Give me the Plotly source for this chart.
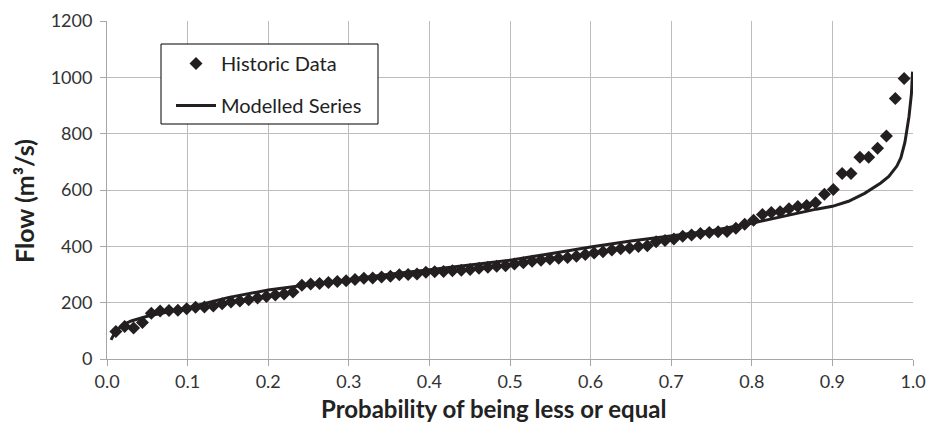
import plotly.graph_objects as go

# Historic data (plotting positions i/(n+1), n = 90)
hist_flow = [98, 115, 110, 130, 162, 170, 172, 173, 178, 184,
             185, 188, 196, 202, 206, 210, 217, 222, 227, 231,
             238, 262, 266, 268, 272, 275, 278, 282, 287, 288,
             291, 294, 299, 300, 302, 308, 310, 311, 313, 315,
             318, 322, 326, 329, 331, 337, 342, 347, 351, 355,
             358, 360, 365, 371, 376, 381, 387, 391, 394, 399,
             402, 416, 421, 426, 436, 440, 446, 449, 452, 453,
             464, 478, 493, 513, 520, 523, 533, 541, 545, 555,
             585, 602, 659, 659, 716, 716, 748, 792, 925, 996]
n_hist = len(hist_flow)
hist_prob = [(i + 1) / (n_hist + 1) for i in range(n_hist)]

# Modelled series
model_prob = [0.005, 0.01, 0.02, 0.03, 0.05, 0.08, 0.10, 0.15, 0.20, 0.25,
              0.30, 0.35, 0.40, 0.45, 0.50, 0.55, 0.60, 0.65, 0.70, 0.75,
              0.80, 0.85, 0.88, 0.90, 0.92, 0.94, 0.96, 0.97, 0.98, 0.985,
              0.99, 0.995, 0.998, 0.9995]
model_flow = [68, 95, 122, 135, 152, 170, 182, 218, 245, 264,
              283, 301, 317, 333, 351, 374, 398, 419, 437, 455,
              482, 514, 532, 542, 560, 588, 625, 648, 685, 715,
              770, 860, 940, 1020]

x_ticks = [0.0, 0.1, 0.2, 0.3, 0.4, 0.5, 0.6, 0.7, 0.8, 0.9, 1.0]
y_ticks = [0, 200, 400, 600, 800, 1000, 1200]

ink = "#231f20"
font_family = "Lato, 'Open Sans', sans-serif"

W, H = 928, 425
L, R, T, B = 107, 15, 21, 66
pw, ph = W - L - R, H - T - B


def px_x(p):
    return (p - L) / pw


def px_y(p):
    return (H - B - p) / ph


fig = go.Figure()
fig.add_trace(go.Scatter(
    x=hist_prob, y=hist_flow, mode="markers", name="Historic Data",
    marker=dict(symbol="diamond", size=10, color=ink, line=dict(width=0)),
    legendgroup="a",
))
fig.add_trace(go.Scatter(
    x=model_prob, y=model_flow, mode="lines", name="Modelled Series",
    line=dict(color=ink, width=3),
    legendgroup="b",
))

# legend frame
fig.add_shape(type="rect", xref="paper", yref="paper",
              x0=px_x(161), x1=px_x(378), y0=px_y(124), y1=px_y(44),
              line=dict(color="black", width=1), fillcolor="white", layer="above")

fig.add_annotation(text="<b>Probability of being less or equal</b>",
                   xref="paper", yref="paper", x=px_x(493), y=px_y(408),
                   xanchor="center", yanchor="middle", showarrow=False,
                   font=dict(size=24, color="#222222"))
fig.add_annotation(text="<b>Flow (m³/s)</b>", textangle=-90,
                   xref="paper", yref="paper", x=px_x(24), y=px_y(201),
                   xanchor="center", yanchor="middle", showarrow=False,
                   font=dict(size=25, color="#222222"))

fig.update_layout(
    width=W, height=H,
    margin=dict(l=L, r=R, t=T, b=B, autoexpand=False),
    paper_bgcolor="white", plot_bgcolor="white",
    font=dict(family=font_family, size=18, color="#333333"),
    showlegend=True,
    legend=dict(
        x=px_x(171), y=px_y(44), xanchor="left", yanchor="top",
        borderwidth=0, bgcolor="rgba(0,0,0,0)",
        font=dict(size=20, color="#222222"),
        traceorder="grouped", tracegroupgap=13,
        itemwidth=40,
    ),
    xaxis=dict(
        range=[0, 1.0], tickvals=x_ticks, tickformat=".1f",
        showgrid=True, gridcolor="#bdbdbd", gridwidth=1,
        showline=True, linecolor="#a6a6a6", linewidth=1,
        ticks="outside", ticklen=6, tickcolor="#a6a6a6",
        zeroline=False, automargin=False,
    ),
    yaxis=dict(
        range=[0, 1200], tickvals=y_ticks,
        showgrid=True, gridcolor="#bdbdbd", gridwidth=1,
        showline=True, linecolor="#a6a6a6", linewidth=1,
        ticks="outside", ticklen=6, tickcolor="#a6a6a6",
        ticklabelstandoff=4,
        zeroline=False, automargin=False,
    ),
)

fig.write_html("out.html", config={"displayModeBar": False},
               post_script="document.body.style.margin='0';")
